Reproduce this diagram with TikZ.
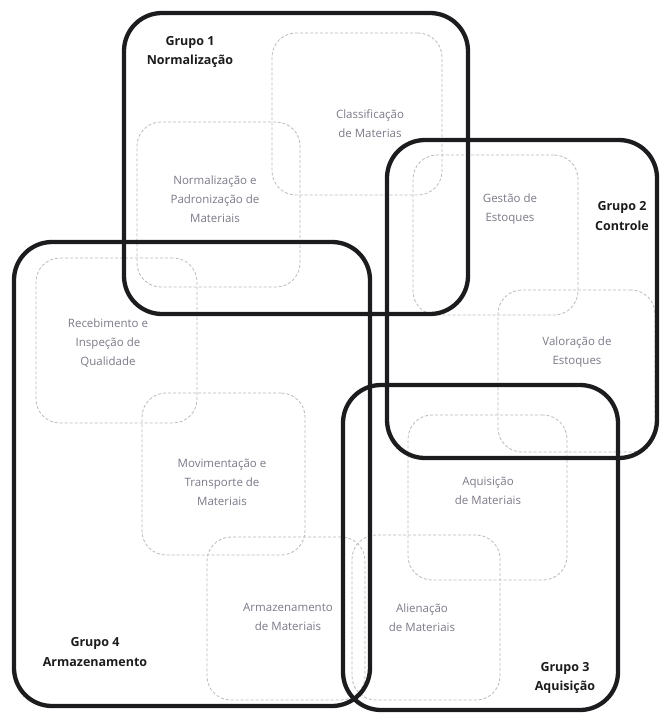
\documentclass[tikz,border=0pt]{standalone}
\usepackage{fontspec}
\setmainfont{Open Sans}
\usetikzlibrary{positioning, fit}

\definecolor{grupoline}{RGB}{28,28,30}
\definecolor{areatext}{RGB}{125,120,135}
\definecolor{arealine}{RGB}{185,185,192}

\begin{document}
\begin{tikzpicture}[x=1pt, y=-1pt]
		\tikzset{
			grupo/.style={draw=grupoline, line width=4.3pt, rounded corners=38pt, inner sep=0pt},
			area/.style={draw=arealine, dash pattern=on 3pt off 2pt, line width=0.8pt, rounded corners=24pt, inner sep=0pt},
			areatxt/.style={align=center, text=areatext, font=\fontsize{11.5}{19}\selectfont},
			grupotxt/.style={align=center, text=grupoline, font=\bfseries\fontsize{12.5}{19.5}\selectfont}
		}
		\useasboundingbox (0,0) rectangle (661,713);
		
		% Areas (dashed)
		\node[area, fit={(272,33) (442,195)}] (classbox) {};
		\node[area, fit={(137,122) (300,287)}] (normbox) {};
		\node[area, fit={(413,155) (578,315)}] (gestbox) {};
		\node[area, fit={(498,290) (655,452)}] (valorbox) {};
		\node[area, fit={(36,258) (197,423)}] (recebbox) {};
		\node[area, fit={(142,393) (305,555)}] (movimbox) {};
		\node[area, fit={(207,537) (365,700)}] (armazbox) {};
		\node[area, fit={(408,415) (567,580)}] (aquisbox) {};
		\node[area, fit={(352,535) (500,700)}] (alienbox) {};
		
		% Area texts
		\node[areatxt] (classtxt) at (370,124) {Classificação\\de Materias};
		\node[areatxt] (normtxt) at (215,199) {Normalização e\\Padronização de\\Materiais};
		\node[areatxt] (gesttxt) at (510,209) {Gestão de\\Estoques};
		\node[areatxt] (valortxt) at (577,352) {Valoração de\\Estoques};
		\node[areatxt] (recebtxt) at (108,343) {Recebimento e\\Inspeção de\\Qualidade};
		\node[areatxt] (movimtxt) at (222,482) {Movimentação e\\Transporte de\\Materiais};
		\node[areatxt] (armaztxt) at (288,617) {Armazenamento\\de Materiais};
		\node[areatxt] (aquistxt) at (488,491) {Aquisição\\de Materiais};
		\node[areatxt] (alientxt) at (422,618) {Alienação\\de Materiais};
		
		% Groups
		\node[grupo, fit={(124,13) (468,314)}] (g1) {};
		\node[grupo, fit={(387,140) (657,458)}] (g2) {};
		\node[grupo, fit={(343,385) (618,710)}] (g3) {};
		\node[grupo, fit={(14,242) (370,706)}] (g4) {};
		
		% Group labels
		\node[grupotxt] (g1txt) at (190,52) {Grupo 1\\Normalização};
		\node[grupotxt] (g2txt) at (622,216) {Grupo 2\\Controle};
		\node[grupotxt] (g3txt) at (565,678) {Grupo 3\\Aquisição};
		\node[grupotxt] (g4txt) at (95,652) {Grupo 4\\Armazenamento};
		
	\end{tikzpicture}
\end{document}
